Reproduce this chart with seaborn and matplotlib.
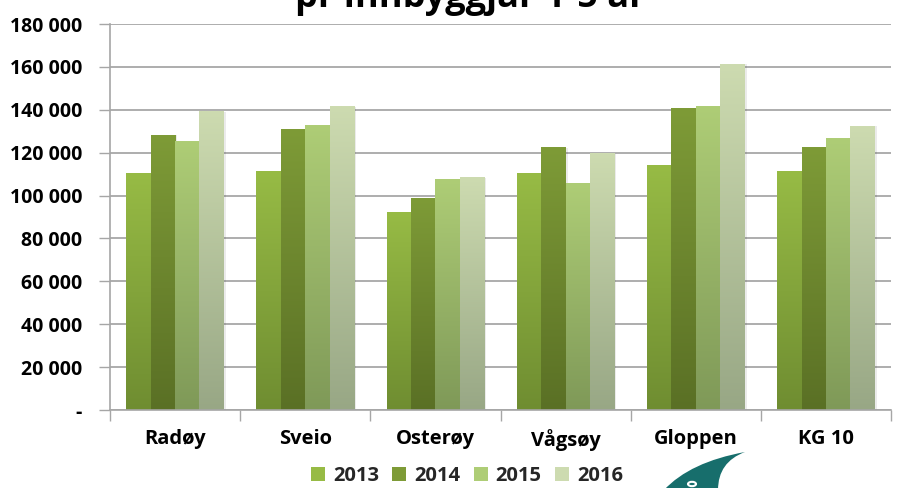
import matplotlib
matplotlib.use("Agg")
import matplotlib.pyplot as plt
import seaborn as sns
import numpy as np
import pandas as pd
from matplotlib.colors import LinearSegmentedColormap
from matplotlib.patches import PathPatch, Circle
from matplotlib.path import Path
from matplotlib.ticker import FuncFormatter, FixedLocator

categories = ["Radøy", "Sveio", "Osterøy", "Vågsøy", "Gloppen", "KG 10"]
years = ["2013", "2014", "2015", "2016"]
v2013 = [110500, 111400, 91900, 110500, 114200, 111400]
v2014 = [128200, 131000, 98400, 122200, 140400, 122600]
v2015 = [125000, 132900, 107700, 105400, 141300, 126400]
v2016 = [139000, 141300, 108200, 119400, 161300, 132400]
title_text = "pr innbyggjar 1-5 år"

top_colors = ["#97bb45", "#7e9b37", "#aecd76", "#cddbb0"]
bottom_colors = ["#6f8d31", "#5a7025", "#7f9958", "#98a785"]

rows = []
for yr, vals in zip(years, [v2013, v2014, v2015, v2016]):
    for c, v in zip(categories, vals):
        rows.append({"kommune": c, "year": yr, "value": v})
df = pd.DataFrame(rows)

sns.set_theme(style="white")
plt.rcParams["font.family"] = ["Open Sans", "DejaVu Sans"]
W = "bold"

fig = plt.figure(figsize=(8.97, 4.88), dpi=100)
ax = fig.add_axes([110 / 897, 1 - 410 / 488, 781 / 897, 386 / 488])

sns.barplot(data=df, x="kommune", y="value", hue="year", order=categories,
            hue_order=years, palette=top_colors, width=0.75, saturation=1,
            ax=ax, legend=True, edgecolor="none", linewidth=0)

for container, tc, bc in zip(ax.containers, top_colors, bottom_colors):
    cmap = LinearSegmentedColormap.from_list("g", [bc, tc])
    for patch in container:
        x, y = patch.get_x(), patch.get_y()
        w, h = patch.get_width(), patch.get_height()
        ax.add_patch(plt.Rectangle((x + w * 0.08, y), w, h, facecolor="#000000",
                                   alpha=0.08, edgecolor="none", zorder=1.5))
        grad = np.linspace(0, 1, 256).reshape(-1, 1)
        ax.imshow(grad, extent=[x, x + w, y, y + h], origin="lower", aspect="auto",
                  cmap=cmap, zorder=2, interpolation="bilinear")
        patch.set_facecolor("none")

ax.set_xlim(-0.5, len(categories) - 0.5)
ax.set_ylim(0, 180000)
ax.set_yticks(np.arange(0, 180001, 20000))
ax.yaxis.set_major_formatter(FuncFormatter(
    lambda v, p: "-" if v == 0 else f"{int(v):,}".replace(",", " ")))
ax.grid(axis="y", color="#a0a0a0", linewidth=1.2, zorder=0)
ax.set_axisbelow(True)
ax.set_xlabel("")
ax.set_ylabel("")

for s in ["top", "right"]:
    ax.spines[s].set_visible(False)
for s in ["left", "bottom"]:
    ax.spines[s].set_color("#a6a6a6")
    ax.spines[s].set_linewidth(1.2)

ax.tick_params(axis="y", which="major", length=8, width=1, color="#a6a6a6",
               labelsize=14, pad=12, direction="out", left=True)
ax.tick_params(axis="x", which="major", length=0, labelsize=14.5, pad=14)
ax.xaxis.set_minor_locator(FixedLocator(np.arange(-0.5, len(categories), 1.0)))
ax.tick_params(axis="x", which="minor", length=8, width=1, color="#a6a6a6",
               direction="out", bottom=True)
for lbl in ax.get_xticklabels() + ax.get_yticklabels():
    lbl.set_fontweight(W)
    lbl.set_color("#000000")

leg = ax.legend(loc="center", bbox_to_anchor=(0.457, -0.172), ncol=4,
                frameon=False, handlelength=0.7, handleheight=0.7,
                handletextpad=0.4, columnspacing=0.65, borderpad=0,
                prop={"weight": W, "size": 14.5})
for h, c in zip(leg.legend_handles, top_colors):
    h.set_facecolor(c)
    h.set_edgecolor("none")

fig.text(470 / 897, 1 - 7 / 488, title_text, ha="center", va="baseline",
         fontsize=26, fontweight=W, color="#000000")

def fp(px, py):
    return (px / 897, 1 - py / 488)
verts = [fp(664, 490), fp(690, 462), fp(745, 452), fp(745, 452),
         fp(718, 462), fp(718, 490), fp(718, 490), fp(664, 490)]
codes = [Path.MOVETO, Path.CURVE3, Path.CURVE3, Path.LINETO,
         Path.CURVE3, Path.CURVE3, Path.LINETO, Path.CLOSEPOLY]
fig.patches.append(PathPatch(Path(verts, codes), facecolor="#176e6c",
                             edgecolor="none", transform=fig.transFigure))
fig.patches.append(Circle(fp(692, 484), 4 / 897, facecolor="none", edgecolor="white",
                          linewidth=1.5, transform=fig.transFigure))

fig.savefig("out.png", dpi=100)
